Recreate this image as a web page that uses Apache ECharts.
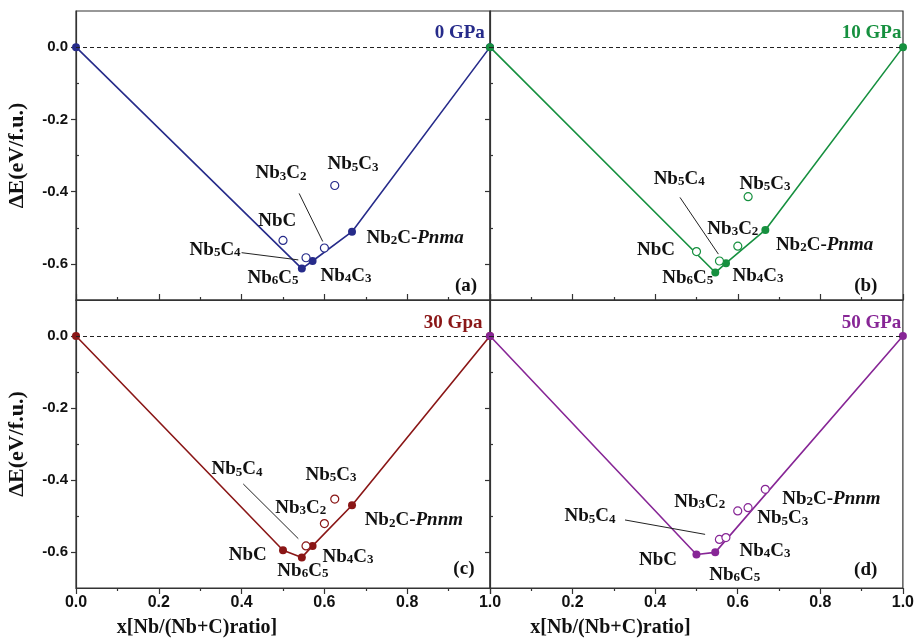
<!DOCTYPE html>
<html>
<head>
<meta charset="utf-8">
<script src="https://cdn.jsdelivr.net/npm/echarts@6/dist/echarts.min.js"></script>
<style>
  html, body { margin: 0; padding: 0; background: #fff; }
  #chart { width: 917px; height: 639px; }
</style>
</head>
<body>
<div id="chart"></div>
<script>
// Formation energy of Nb–C phases versus Nb fraction, four pressures.
const phases      = ['C', 'NbC', 'Nb6C5', 'Nb5C4', 'Nb4C3', 'Nb3C2', 'Nb5C3', 'Nb2C', 'Nb'];
const composition = [0, 0.5, 0.5455, 0.5556, 0.5714, 0.6, 0.625, 0.6667, 1];
const pressures   = ['0 GPa', '10 GPa', '30 Gpa', '50 GPa'];
const panelTags   = ['(a)', '(b)', '(c)', '(d)'];

// ΔE (eV/f.u.) per phase, same order as `phases`
const energy0  = [0, -0.535, -0.613, -0.583, -0.592, -0.556, -0.383, -0.511, 0];
const energy10 = [0, -0.566, -0.624, -0.592, -0.598, -0.551, -0.414, -0.506, 0];
const energy30 = [0, -0.595, -0.615, -0.583, -0.583, -0.521, -0.453, -0.470, 0];
const energy50 = [0, -0.607, -0.601, -0.565, -0.560, -0.486, -0.477, -0.426, 0];

// phases lying on the convex hull (filled symbols joined by the hull line)
const hull0  = ['C', 'Nb6C5', 'Nb4C3', 'Nb2C', 'Nb'];
const hull10 = ['C', 'Nb6C5', 'Nb4C3', 'Nb2C', 'Nb'];
const hull30 = ['C', 'NbC', 'Nb6C5', 'Nb4C3', 'Nb2C', 'Nb'];
const hull50 = ['C', 'NbC', 'Nb6C5', 'Nb'];

const xTickValues = [0, 0.2, 0.4, 0.6, 0.8, 1.0];
const yTickValues = [0, -0.2, -0.4, -0.6];
const yMinorTicks = [-0.1, -0.3, -0.5];

const energies = [energy0, energy10, energy30, energy50];
const hulls = [hull0, hull10, hull30, hull50];

// ---- presentation ----
const colors = ['#262b8a', '#16903f', '#8a1616', '#872696'];
const SERIF = '"Liberation Serif", "Times New Roman", serif';
const SANS = '"Liberation Sans", Arial, sans-serif';

// label text (rich) and anchor in data units for each panel
const stage2C = ['Nb{s|2}C-{i|Pnma}', 'Nb{s|2}C-{i|Pnma}', 'Nb{s|2}C-{i|Pnnm}', 'Nb{s|2}C-{i|Pnnm}'];
const labelLayout = [
  [
    ['NbC', 0.486, -0.481], ['Nb{s|3}C{s|2}', 0.495, -0.350], ['Nb{s|5}C{s|3}', 0.669, -0.325],
    [stage2C[0], 0.819, -0.528], ['Nb{s|5}C{s|4}', 0.336, -0.561], ['Nb{s|6}C{s|5}', 0.476, -0.639],
    ['Nb{s|4}C{s|3}', 0.652, -0.633]
  ],
  [
    ['Nb{s|5}C{s|4}', 0.458, -0.364], ['Nb{s|5}C{s|3}', 0.666, -0.378], ['Nb{s|3}C{s|2}', 0.588, -0.503],
    ['NbC', 0.402, -0.561], [stage2C[1], 0.810, -0.547], ['Nb{s|6}C{s|5}', 0.479, -0.639],
    ['Nb{s|4}C{s|3}', 0.649, -0.633]
  ],
  [
    ['Nb{s|5}C{s|4}', 0.389, -0.370], ['Nb{s|5}C{s|3}', 0.616, -0.386], ['Nb{s|3}C{s|2}', 0.543, -0.477],
    [stage2C[2], 0.816, -0.512], ['NbC', 0.415, -0.608], ['Nb{s|6}C{s|5}', 0.548, -0.652],
    ['Nb{s|4}C{s|3}', 0.657, -0.614]
  ],
  [
    ['Nb{s|5}C{s|4}', 0.242, -0.501], ['Nb{s|3}C{s|2}', 0.508, -0.460], [stage2C[3], 0.827, -0.452],
    ['Nb{s|5}C{s|3}', 0.709, -0.507], ['Nb{s|4}C{s|3}', 0.666, -0.597], ['NbC', 0.407, -0.622],
    ['Nb{s|6}C{s|5}', 0.593, -0.663]
  ]
];
const titleAnchor = [[0.927, 0.039], [0.924, 0.039], [0.911, 0.036], [0.924, 0.036]];
const tagAnchor = [[0.942, -0.661], [0.910, -0.661], [0.937, -0.647], [0.910, -0.649]];
const arrowLayout = [
  [[[0.539, -0.405], [0.596, -0.538]], [[0.400, -0.569], [0.537, -0.589]]],
  [[[0.460, -0.416], [0.553, -0.573]]],
  [[[0.404, -0.411], [0.537, -0.563]]],
  [[[0.327, -0.511], [0.521, -0.551]]]
];

const gridBoxes = [
  { left: 76, top: 11, width: 414, height: 289 },
  { left: 490, top: 11, width: 413, height: 289 },
  { left: 76, top: 300, width: 414, height: 290 },
  { left: 490, top: 300, width: 413, height: 290 }
];

const rich = {
  s: { fontFamily: SERIF, fontWeight: 'bold', fontSize: 13, lineHeight: 5, verticalAlign: 'bottom', color: '#111' },
  i: { fontFamily: SERIF, fontWeight: 'bold', fontStyle: 'italic', fontSize: 19, lineHeight: 19, color: '#111' }
};

const grid = gridBoxes.map(b => Object.assign({
  show: true, borderColor: '#333', borderWidth: 1.2, backgroundColor: 'transparent', containLabel: false
}, b));

const xAxis = gridBoxes.map((b, k) => {
  const bottomRow = k >= 2;
  return {
    type: 'value', gridIndex: k, min: 0, max: 1, interval: 0.2,
    axisLine: { show: true, onZero: false, lineStyle: { color: '#333', width: 1.2 } },
    axisTick: { show: true, inside: !bottomRow, length: 6, lineStyle: { color: '#333', width: 1.2 } },
    minorTick: { show: true, splitNumber: 2, length: 3, lineStyle: { color: '#333', width: 1.2 } },
    splitLine: { show: false },
    axisLabel: {
      show: bottomRow, margin: 7, color: '#111', fontFamily: SANS, fontWeight: 'bold', fontSize: 16,
      customValues: k === 3 ? xTickValues.slice(1) : xTickValues,
      formatter: v => v.toFixed(1)
    },
    name: bottomRow ? 'x[Nb/(Nb+C)ratio]' : '',
    nameLocation: 'middle', nameGap: 30,
    nameTextStyle: { fontFamily: SERIF, fontWeight: 'bold', fontSize: 20, color: '#111', padding: [0, 172, 0, 0] }
  };
});

const yAxis = [];
gridBoxes.forEach((b, k) => {
  const leftCol = k % 2 === 0;
  yAxis.push({
    type: 'value', gridIndex: k, min: -0.7, max: 0.1, interval: 0.1,
    axisLine: { show: true, onZero: false, lineStyle: { color: '#333', width: 1.2 } },
    axisTick: { show: true, inside: false, length: 5, customValues: yTickValues, lineStyle: { color: '#333', width: 1.2 } },
    splitLine: { show: false },
    axisLabel: {
      show: leftCol, margin: 8, color: '#111', fontFamily: SANS, fontWeight: 'bold', fontSize: 15,
      customValues: yTickValues, formatter: v => v.toFixed(1)
    },
    name: leftCol ? 'ΔE(eV/f.u.)' : '',
    nameLocation: 'middle', nameGap: 48,
    nameTextStyle: { fontFamily: SERIF, fontWeight: 'bold', fontSize: 22, color: '#111' }
  });
});
// minor y ticks
gridBoxes.forEach((b, k) => {
  yAxis.push({
    type: 'value', gridIndex: k, min: -0.7, max: 0.1, interval: 0.1,
    axisLine: { show: false },
    axisTick: { show: true, inside: false, length: 3, customValues: yMinorTicks, lineStyle: { color: '#333', width: 1.2 } },
    axisLabel: { show: false },
    splitLine: { show: false }
  });
});

const series = [];
energies.forEach((E, k) => {
  const c = colors[k];
  const hullPts = hulls[k].map(p => { const i = phases.indexOf(p); return [composition[i], E[i]]; });
  const offPts = phases.map((p, i) => hulls[k].includes(p) ? null : [composition[i], E[i]]).filter(Boolean);

  series.push({
    type: 'line', xAxisIndex: k, yAxisIndex: k, data: hullPts, z: 3,
    symbol: 'circle', symbolSize: 8, clip: false,
    lineStyle: { color: c, width: 1.6 }, itemStyle: { color: c, opacity: 1 },
    markLine: {
      silent: true, symbol: 'none', label: { show: false },
      lineStyle: { color: '#222', width: 1, type: [4, 3] },
      data: [{ yAxis: 0 }]
    }
  });
  series.push({
    type: 'scatter', xAxisIndex: k, yAxisIndex: k, data: offPts, z: 4,
    symbol: 'circle', symbolSize: 8,
    itemStyle: { color: '#fff', borderColor: c, borderWidth: 1.2, opacity: 1 }
  });

  const texts = labelLayout[k].map(([t, x, y]) => ({ value: [x, y], t: t, kind: 'phase' }));
  texts.push({ value: titleAnchor[k], t: pressures[k], kind: 'title' });
  texts.push({ value: tagAnchor[k], t: panelTags[k], kind: 'tag' });

  series.push({
    type: 'scatter', xAxisIndex: k, yAxisIndex: k, symbolSize: 0, silent: true, z: 5,
    itemStyle: { opacity: 1 },
    data: texts.map(d => ({
      value: d.value,
      label: {
        show: true, position: 'inside',
        formatter: d.t,
        fontFamily: SERIF, fontWeight: 'bold',
        fontSize: 19, lineHeight: 19,
        color: d.kind === 'title' ? c : '#111',
        opacity: 1,
        rich: rich
      }
    })),
    markLine: {
      silent: true, symbol: ['none', 'arrow'], symbolSize: [0, 7], label: { show: false },
      lineStyle: { color: '#222', width: 1, type: 'solid' },
      data: arrowLayout[k].map(([a, b]) => [{ coord: a }, { coord: b }])
    }
  });
});

const chart = echarts.init(document.getElementById('chart'), null, { renderer: 'canvas' });
chart.setOption({
  animation: false,
  backgroundColor: '#fff',
  grid, xAxis, yAxis, series
});
</script>
</body>
</html>
